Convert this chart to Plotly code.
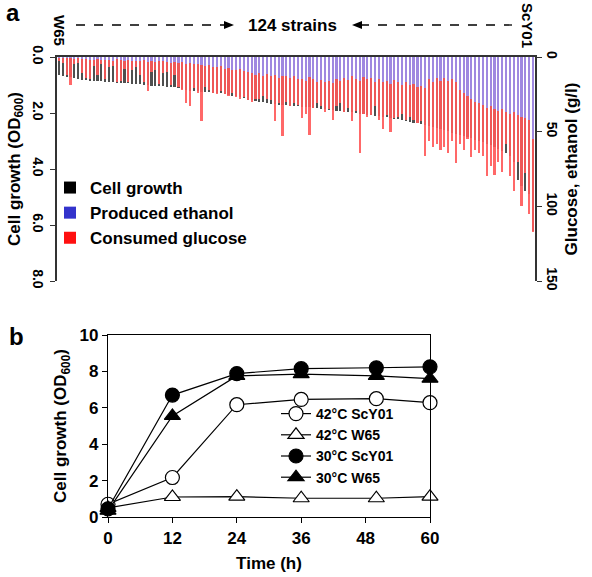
import plotly.graph_objects as go

W, H = 592, 577
def px(x): return x / W
def py(y): return 1 - y / H

FONT = "Liberation Sans"

# ---------------- Panel a data (124 strains, W65 ... ScY01) ----------------
strain_index = list(range(124))
strain_first, strain_last = "W65", "ScY01"

cell_growth = [
    0.66, 0.68, 0.70, 0.72, 0.74,
    0.80, 0.82, 0.83, 0.84, 0.85, 0.86, 0.87, 0.88,
    0.90, 0.91, 0.92, 0.92, 0.93, 0.94, 0.95, 0.96, 0.98,
    1.00, 1.01, 1.02, 1.03, 1.04, 1.05, 1.06, 1.07, 1.08, 1.10,
    1.16, 1.18, 1.20, 1.21, 1.22, 1.24, 1.25, 1.26, 1.27, 1.28, 1.30, 1.32,
    1.36, 1.38, 1.40, 1.44,
    1.48, 1.52, 1.55, 1.58, 1.60, 1.62, 1.65, 1.67, 1.69,
    1.70, 1.72, 1.73, 1.74, 1.75, 1.76, 1.77, 1.78, 1.80,
    1.81, 1.83, 1.84, 1.86, 1.88, 1.90, 1.92, 1.94,
    1.96, 1.97, 1.98, 2.00, 2.02, 2.04, 2.06, 2.08, 2.10,
    2.12, 2.14, 2.16, 2.18, 2.20, 2.22, 2.25, 2.28,
    2.31, 2.34, 2.37, 2.40, 2.43, 2.46, 2.50, 2.54, 2.58,
    2.62, 2.66, 2.70, 2.74, 2.78, 2.82, 2.86, 2.90, 2.95,
    3.00, 3.05, 3.10, 3.16, 3.22, 3.28, 3.35, 3.42,
    3.55, 3.75, 4.40, 4.60, 4.80, 4.90, 6.20,
]

produced_ethanol = [
    0.5, 0.8, 1.0, 0.6, 1.2, 1.0, 1.5, 1.2, 2.0, 1.8,
    1.5, 2.2, 1.8, 2.0, 2.5, 1.5, 2.2, 2.8, 2.0, 2.4,
    2.6, 3.0, 2.2, 3.2, 2.8, 3.5, 3.0, 2.6, 3.4, 3.8,
    3.2, 4.0, 3.6, 4.5, 4.0, 5.0, 4.6, 5.5, 6.0, 5.2,
    6.5, 7.0, 6.0, 8.0, 7.5, 8.5, 9.0, 8.0, 9.5, 10.0,
    11.0, 12.0, 10.5, 12.5, 11.5, 13.0, 12.0, 14.0, 13.0, 12.5,
    14.0, 13.0, 15.0, 14.5, 16.0, 13.5, 15.0, 16.5, 15.5, 17.0,
    16.0, 17.5, 15.0, 16.0, 14.0, 15.5, 13.0, 14.5, 16.0, 13.5,
    15.0, 14.0, 16.5, 15.0, 17.0, 16.0, 18.0, 15.5, 17.0, 18.5,
    17.0, 19.0, 18.0, 20.0, 19.5, 21.0, 15.0, 17.0, 14.0, 16.0,
    14.0, 16.0, 15.0, 17.0, 22.0, 24.0, 26.0, 28.0, 30.0, 31.0,
    32.0, 34.0, 33.0, 35.0, 36.0, 35.0, 37.0, 38.0, 37.0, 39.0,
    40.0, 41.0, 42.0, 55.0,
]

consumed_glucose = [
    3, 4, 12, 19, 5, 4, 11, 14, 15, 6,
    12, 5, 15, 7, 6, 17, 16, 8, 17, 9,
    7, 12, 17, 23, 10, 9, 18, 11, 10, 19,
    12, 20, 22, 31, 33, 21, 24, 43, 20, 22,
    24, 25, 23, 25, 26, 24, 27, 28, 27, 29,
    30, 28, 28, 26, 28, 29, 43, 31, 53, 30,
    33, 31, 32, 41, 38, 52, 34, 31, 33, 37,
    35, 42, 33, 31, 37, 34, 43, 36, 64, 38,
    40, 39, 33, 42, 48, 39, 50, 41, 40, 38,
    42, 40, 42, 44, 43, 66, 56, 60, 58, 62,
    60, 64, 56, 71, 58, 62, 55, 67, 62, 64,
    66, 80, 73, 79, 70, 77, 58, 80, 90, 70,
    100, 78, 105, 117,
]

od_ticks = [0, 2, 4, 6, 8]
gl_ticks = [0, 50, 100, 150]

# ---------------- Panel b data ----------------
time_h = [0, 12, 24, 36, 50, 60]
time_ticks = [0, 12, 24, 36, 48, 60]
od_42_scy01 = [0.70, 2.17, 6.17, 6.46, 6.50, 6.28]
od_42_w65 = [0.50, 1.10, 1.12, 1.03, 1.03, 1.12]
od_30_scy01 = [0.45, 6.70, 7.88, 8.15, 8.20, 8.25]
od_30_w65 = [0.35, 5.55, 7.75, 7.85, 7.75, 7.60]
growth_ticks = [0, 2, 4, 6, 8, 10]

BAR_W = 0.56
fig = go.Figure()

fig.add_trace(go.Bar(x=strain_index, y=cell_growth, xaxis="x", yaxis="y",
                     width=BAR_W, marker=dict(color="rgba(40,40,40,0.82)", line=dict(width=0)),
                     showlegend=False, hoverinfo="skip"))
fig.add_trace(go.Bar(x=strain_index, y=consumed_glucose, xaxis="x", yaxis="y2",
                     width=BAR_W, marker=dict(color="rgba(255,88,88,0.9)", line=dict(width=0)),
                     showlegend=False, hoverinfo="skip"))
fig.add_trace(go.Bar(x=strain_index, y=produced_ethanol, xaxis="x", yaxis="y2",
                     width=BAR_W, marker=dict(color="rgba(145,145,248,0.85)", line=dict(width=0)),
                     showlegend=False, hoverinfo="skip"))

# legend entries for panel a (solid colours as in the key)
for name, col in [("Cell growth", "#000000"), ("Produced ethanol", "#3333cc"),
                  ("Consumed glucose", "#ff1010")]:
    fig.add_trace(go.Bar(x=[None], y=[None], xaxis="x", yaxis="y", name=name,
                         marker=dict(color=col, line=dict(width=0)), legend="legend"))

# ---------------- Panel b traces ----------------
series_b = [
    ("42°C ScY01", od_42_scy01, "circle", "white"),
    ("42°C W65", od_42_w65, "triangle-up", "white"),
    ("30°C ScY01", od_30_scy01, "circle", "black"),
    ("30°C W65", od_30_w65, "triangle-up", "black"),
]
for name, vals, sym, fill in series_b:
    fig.add_trace(go.Scatter(x=time_h, y=vals, xaxis="x3", yaxis="y3", name=name,
                             mode="lines+markers", cliponaxis=False,
                             line=dict(color="black", width=1.2),
                             marker=dict(symbol=sym, size=14, color=fill,
                                         line=dict(color="black", width=1.2)),
                             legend="legend2"))

tickfont = dict(family=FONT, size=14, color="black", weight="bold")
titlefont = dict(family=FONT, size=17, color="black", weight="bold")
AX = "#333333"

fig.update_layout(
    width=W, height=H, margin=dict(l=0, r=0, t=0, b=0),
    paper_bgcolor="white", plot_bgcolor="rgba(0,0,0,0)",
    barmode="overlay", bargap=0,
    font=dict(family=FONT, color="black"),
    xaxis=dict(domain=[px(57), px(535)], anchor="y", side="top", automargin=False,
               range=[-0.5, 123.5], showline=True, linecolor=AX, linewidth=1.5,
               showticklabels=False, ticks="", showgrid=False, zeroline=False),
    yaxis=dict(domain=[py(281), py(57)], anchor="x", range=[8, 0], automargin=False,
               tickvals=od_ticks, tickformat=".1f", ticks="outside", ticklen=5,
               tickcolor=AX, showline=True, linecolor=AX, linewidth=1.5,
               tickangle=90, tickfont=tickfont, showgrid=False, zeroline=False,
               title=dict(text="Cell growth (OD<sub>600</sub>)", font=titlefont, standoff=6)),
    yaxis2=dict(overlaying="y", side="right", anchor="x", range=[150, 0], automargin=False,
                tickvals=gl_ticks, ticks="outside", ticklen=5, tickcolor=AX,
                showline=True, linecolor=AX, linewidth=1.5, tickangle=90,
                tickfont=tickfont, showgrid=False, zeroline=False,
                title=dict(text="Glucose, ethanol (g/l)", font=titlefont, standoff=6)),
    xaxis3=dict(domain=[px(108), px(430)], anchor="y3", range=[0, 60], automargin=False,
                tickvals=time_ticks, ticks="outside", ticklen=5, tickcolor="black",
                showline=True, mirror=True, linecolor="black", linewidth=1.2,
                tickfont=dict(family=FONT, size=17, color="black", weight="bold"),
                showgrid=False, zeroline=False,
                title=dict(text="Time (h)", font=titlefont, standoff=10)),
    yaxis3=dict(domain=[py(517), py(335)], anchor="x3", range=[0, 10], automargin=False,
                tickvals=growth_ticks, ticks="outside", ticklen=5, tickcolor="black",
                showline=True, mirror=True, linecolor="black", linewidth=1.2,
                tickfont=dict(family=FONT, size=17, color="black", weight="bold"),
                showgrid=False, zeroline=False,
                title=dict(text="Cell growth (OD<sub>600</sub>)", font=titlefont, standoff=8)),
    legend=dict(x=px(50), y=py(170), xanchor="left", yanchor="top",
                bgcolor="rgba(0,0,0,0)", font=dict(family=FONT, size=17, color="black", weight="bold"),
                tracegroupgap=0, itemwidth=30),
    legend2=dict(x=px(276), y=py(398), xanchor="left", yanchor="top",
                 bgcolor="rgba(0,0,0,0)", font=dict(family=FONT, size=14, color="black", weight="bold"),
                 tracegroupgap=0, itemwidth=30),
)

# dashed arrows above panel a
fig.add_shape(type="line", xref="paper", yref="paper", x0=px(76), x1=px(226), y0=py(25), y1=py(25),
              line=dict(color="black", width=1.3, dash="dash"))
fig.add_shape(type="path", xref="paper", yref="paper",
              path=f"M {px(224)} {py(21)} L {px(234)} {py(25)} L {px(224)} {py(29)} Z",
              fillcolor="black", line=dict(width=0))
fig.add_shape(type="line", xref="paper", yref="paper", x0=px(360), x1=px(512), y0=py(25), y1=py(25),
              line=dict(color="black", width=1.3, dash="dash"))
fig.add_shape(type="path", xref="paper", yref="paper",
              path=f"M {px(362)} {py(21)} L {px(352)} {py(25)} L {px(362)} {py(29)} Z",
              fillcolor="black", line=dict(width=0))

def ann(text, x, y, size, angle=0):
    fig.add_annotation(text=text, x=px(x), y=py(y), xref="paper", yref="paper",
                       showarrow=False, textangle=angle, xanchor="center", yanchor="middle",
                       font=dict(family=FONT, size=size, color="black", weight="bold"))

ann("a", 13, 12, 24)
ann("b", 16, 336, 24)
ann("124 strains", 292, 26, 17)
ann(strain_first, 60, 30, 15, 90)
ann(strain_last, 527, 25, 15, 90)

fig.write_html("out.html", config={"displayModeBar": False},
               post_script="document.body.style.margin='0px';")
